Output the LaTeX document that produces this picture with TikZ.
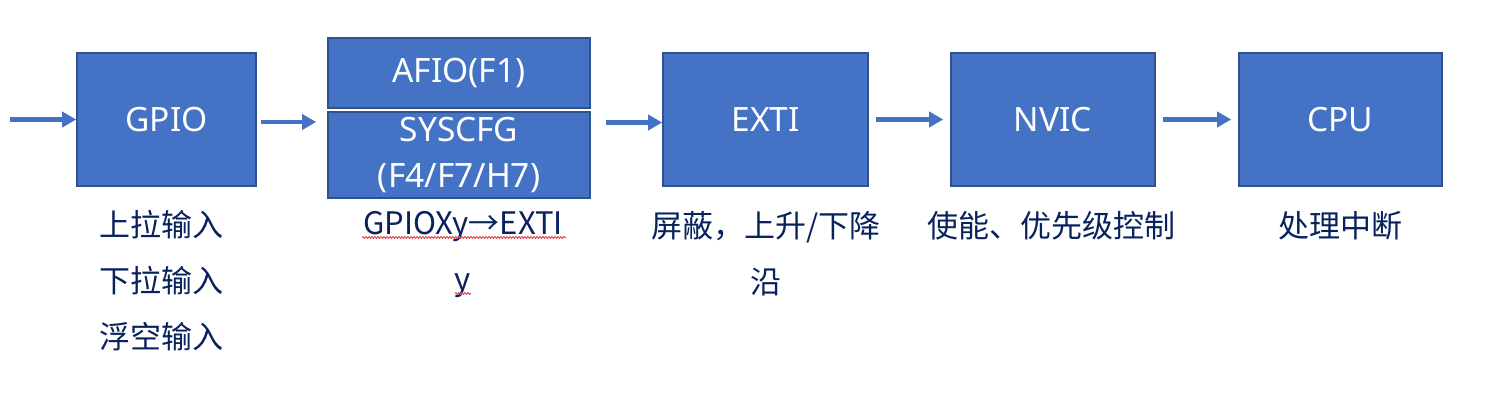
\documentclass[tikz,border=0pt]{standalone}
\usepackage{fontspec}
\setmainfont{Noto Sans}
\newfontfamily\cjk{Noto Sans CJK SC}
\usetikzlibrary{arrows.meta,decorations.pathmorphing,calc}
\definecolor{boxfill}{HTML}{4472C4}
\definecolor{boxline}{HTML}{2F528F}
\definecolor{navy}{HTML}{08225E}
\definecolor{squigred}{HTML}{E8484A}
\begin{document}
\begin{tikzpicture}[x=1pt,y=-1pt,
  blk/.style={draw=boxline,line width=1.6pt,fill=boxfill,text=white,inner sep=0pt,
    font=\fontsize{33.5}{46}\selectfont,align=center},
  arr/.style={draw=boxfill,line width=4.5pt,-{Triangle[length=14pt,width=15pt]}},
  note/.style={text=navy,font=\cjk\fontsize{31}{56}\selectfont,align=center,inner sep=0pt},
  squig/.style={draw=squigred,line width=0.9pt,decorate,
    decoration={snake,amplitude=1pt,segment length=3pt}}]
\useasboundingbox[fill=white] (0,0) rectangle (1498,411);

% boxes
\node[blk,minimum width=179pt,minimum height=133pt] (gpio) at (166.5,119.5) {GPIO};
\node[blk,minimum width=262pt,minimum height=70pt] (afio) at (459,73) {AFIO(F1)};
\node[blk,minimum width=262pt,minimum height=86pt] (syscfg) at (459,155) {SYSCFG\\(F4/F7/H7)};
\node[blk,minimum width=205pt,minimum height=133pt] (exti) at (765.5,119.5) {EXTI};
\node[blk,minimum width=204pt,minimum height=133pt] (nvic) at (1053,119.5) {NVIC};
\node[blk,minimum width=203pt,minimum height=133pt] (cpu) at (1340.5,119.5) {CPU};

% arrows
\coordinate (in) at (10,119.5);
\draw[arr] (in) -- (gpio.west);
\draw[arr,shorten <=4pt,shorten >=11pt] ($(gpio.east)+(0,2.5)$) -- ($(gpio.east -| syscfg.west)+(0,2.5)$);
\draw[arr,shorten <=15pt] ($(syscfg.east |- exti.west)+(0,3)$) -- ($(exti.west)+(0,3)$);
\draw[arr,shorten <=7pt,shorten >=7pt] (exti.east) -- (nvic.west);
\draw[arr,shorten <=7pt,shorten >=7pt] (nvic.east) -- (cpu.west);

% notes
\node[note] (n1) at (161,281) {上拉输入\\下拉输入\\浮空输入};
\node[note] (n2) at (463,254.5) {GPIOXy→EXTI\\y};
\node[note] (n3) at (766,253.5) {屏蔽，上升/下降\\沿};
\node[note] (n4) at (1051,226) {使能、优先级控制};
\node[note] (n5) at (1340,226) {处理中断};

% spell-check squiggles
\coordinate (s1a) at (362,237.5);
\coordinate (s1b) at (566,237.5);
\coordinate (s2a) at (455,293.5);
\coordinate (s2b) at (471,293.5);
\draw[squig] (s1a) -- (s1b);
\draw[squig] (s2a) -- (s2b);
\end{tikzpicture}
\end{document}
